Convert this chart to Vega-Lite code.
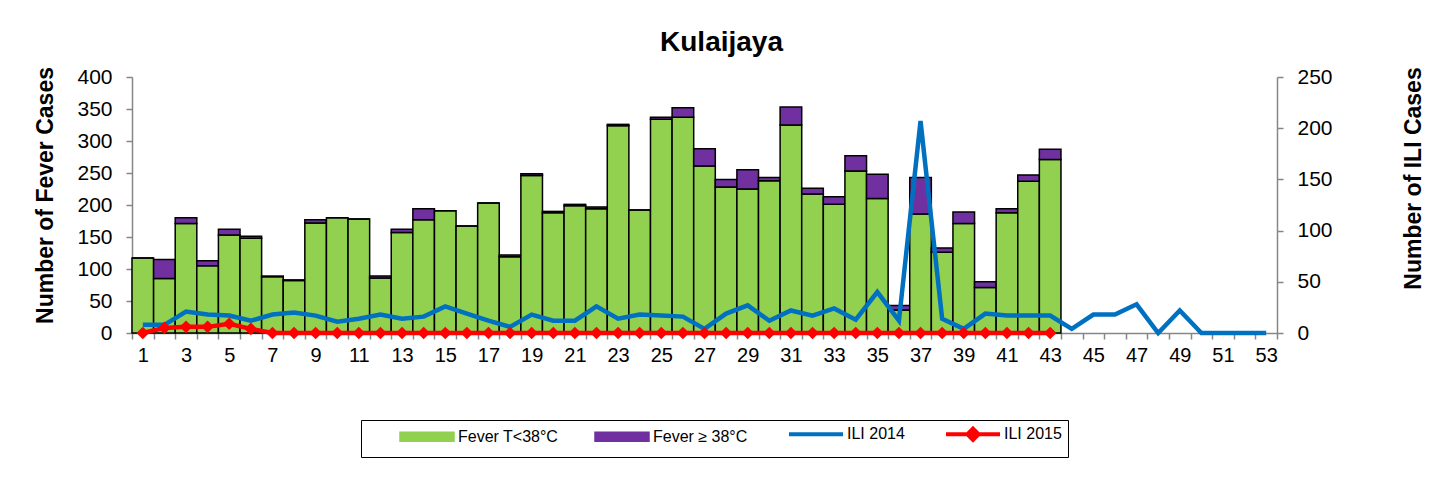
{
  "$schema": "https://vega.github.io/schema/vega-lite/v6.json",
  "width": 1145,
  "height": 256,
  "autosize": {"type": "none"},
  "padding": {"left": 132, "top": 77, "right": 171, "bottom": 160},
  "background": "white",
  "config": {
    "font": "Liberation Sans",
    "view": {"stroke": null},
    "axis": {"labelFont": "Liberation Sans", "titleFont": "Liberation Sans", "labelColor": "black", "titleColor": "black", "grid": false, "domainColor": "#868686", "tickColor": "#868686", "domainWidth": 1.5, "tickWidth": 1.5}
  },
  "title": {"text": "Kulaijaya", "fontSize": 28, "fontWeight": "bold", "font": "Liberation Sans", "color": "black", "anchor": "middle", "frame": "group", "dx": 17, "offset": 9},
  "datasets": {
    "bars": [
      {"week": 1, "series": "Fever T<38°C", "value": 117}, {"week": 1, "series": "Fever ≥ 38°C", "value": 0},
      {"week": 2, "series": "Fever T<38°C", "value": 85}, {"week": 2, "series": "Fever ≥ 38°C", "value": 30},
      {"week": 3, "series": "Fever T<38°C", "value": 171}, {"week": 3, "series": "Fever ≥ 38°C", "value": 9},
      {"week": 4, "series": "Fever T<38°C", "value": 105}, {"week": 4, "series": "Fever ≥ 38°C", "value": 8},
      {"week": 5, "series": "Fever T<38°C", "value": 153}, {"week": 5, "series": "Fever ≥ 38°C", "value": 9},
      {"week": 6, "series": "Fever T<38°C", "value": 148}, {"week": 6, "series": "Fever ≥ 38°C", "value": 3},
      {"week": 7, "series": "Fever T<38°C", "value": 88}, {"week": 7, "series": "Fever ≥ 38°C", "value": 1},
      {"week": 8, "series": "Fever T<38°C", "value": 82}, {"week": 8, "series": "Fever ≥ 38°C", "value": 1},
      {"week": 9, "series": "Fever T<38°C", "value": 172}, {"week": 9, "series": "Fever ≥ 38°C", "value": 5},
      {"week": 10, "series": "Fever T<38°C", "value": 180}, {"week": 10, "series": "Fever ≥ 38°C", "value": 0},
      {"week": 11, "series": "Fever T<38°C", "value": 178}, {"week": 11, "series": "Fever ≥ 38°C", "value": 0},
      {"week": 12, "series": "Fever T<38°C", "value": 86}, {"week": 12, "series": "Fever ≥ 38°C", "value": 3},
      {"week": 13, "series": "Fever T<38°C", "value": 157}, {"week": 13, "series": "Fever ≥ 38°C", "value": 5},
      {"week": 14, "series": "Fever T<38°C", "value": 177}, {"week": 14, "series": "Fever ≥ 38°C", "value": 17},
      {"week": 15, "series": "Fever T<38°C", "value": 191}, {"week": 15, "series": "Fever ≥ 38°C", "value": 0},
      {"week": 16, "series": "Fever T<38°C", "value": 167}, {"week": 16, "series": "Fever ≥ 38°C", "value": 0},
      {"week": 17, "series": "Fever T<38°C", "value": 203}, {"week": 17, "series": "Fever ≥ 38°C", "value": 0},
      {"week": 18, "series": "Fever T<38°C", "value": 119}, {"week": 18, "series": "Fever ≥ 38°C", "value": 3},
      {"week": 19, "series": "Fever T<38°C", "value": 246}, {"week": 19, "series": "Fever ≥ 38°C", "value": 3},
      {"week": 20, "series": "Fever T<38°C", "value": 188}, {"week": 20, "series": "Fever ≥ 38°C", "value": 2},
      {"week": 21, "series": "Fever T<38°C", "value": 199}, {"week": 21, "series": "Fever ≥ 38°C", "value": 2},
      {"week": 22, "series": "Fever T<38°C", "value": 194}, {"week": 22, "series": "Fever ≥ 38°C", "value": 3},
      {"week": 23, "series": "Fever T<38°C", "value": 324}, {"week": 23, "series": "Fever ≥ 38°C", "value": 2},
      {"week": 24, "series": "Fever T<38°C", "value": 192}, {"week": 24, "series": "Fever ≥ 38°C", "value": 0},
      {"week": 25, "series": "Fever T<38°C", "value": 334}, {"week": 25, "series": "Fever ≥ 38°C", "value": 3},
      {"week": 26, "series": "Fever T<38°C", "value": 337}, {"week": 26, "series": "Fever ≥ 38°C", "value": 15},
      {"week": 27, "series": "Fever T<38°C", "value": 261}, {"week": 27, "series": "Fever ≥ 38°C", "value": 27},
      {"week": 28, "series": "Fever T<38°C", "value": 228}, {"week": 28, "series": "Fever ≥ 38°C", "value": 12},
      {"week": 29, "series": "Fever T<38°C", "value": 225}, {"week": 29, "series": "Fever ≥ 38°C", "value": 30},
      {"week": 30, "series": "Fever T<38°C", "value": 238}, {"week": 30, "series": "Fever ≥ 38°C", "value": 5},
      {"week": 31, "series": "Fever T<38°C", "value": 325}, {"week": 31, "series": "Fever ≥ 38°C", "value": 28},
      {"week": 32, "series": "Fever T<38°C", "value": 217}, {"week": 32, "series": "Fever ≥ 38°C", "value": 9},
      {"week": 33, "series": "Fever T<38°C", "value": 201}, {"week": 33, "series": "Fever ≥ 38°C", "value": 12},
      {"week": 34, "series": "Fever T<38°C", "value": 253}, {"week": 34, "series": "Fever ≥ 38°C", "value": 24},
      {"week": 35, "series": "Fever T<38°C", "value": 210}, {"week": 35, "series": "Fever ≥ 38°C", "value": 38},
      {"week": 36, "series": "Fever T<38°C", "value": 36}, {"week": 36, "series": "Fever ≥ 38°C", "value": 7},
      {"week": 37, "series": "Fever T<38°C", "value": 186}, {"week": 37, "series": "Fever ≥ 38°C", "value": 57},
      {"week": 38, "series": "Fever T<38°C", "value": 126}, {"week": 38, "series": "Fever ≥ 38°C", "value": 7},
      {"week": 39, "series": "Fever T<38°C", "value": 171}, {"week": 39, "series": "Fever ≥ 38°C", "value": 18},
      {"week": 40, "series": "Fever T<38°C", "value": 71}, {"week": 40, "series": "Fever ≥ 38°C", "value": 9},
      {"week": 41, "series": "Fever T<38°C", "value": 188}, {"week": 41, "series": "Fever ≥ 38°C", "value": 6},
      {"week": 42, "series": "Fever T<38°C", "value": 237}, {"week": 42, "series": "Fever ≥ 38°C", "value": 10},
      {"week": 43, "series": "Fever T<38°C", "value": 271}, {"week": 43, "series": "Fever ≥ 38°C", "value": 16}
    ],
    "ili": [
      {"week": 1, "series": "ILI 2014", "value": 8}, {"week": 2, "series": "ILI 2014", "value": 8},
      {"week": 3, "series": "ILI 2014", "value": 21}, {"week": 4, "series": "ILI 2014", "value": 18},
      {"week": 5, "series": "ILI 2014", "value": 17}, {"week": 6, "series": "ILI 2014", "value": 12},
      {"week": 7, "series": "ILI 2014", "value": 18}, {"week": 8, "series": "ILI 2014", "value": 20},
      {"week": 9, "series": "ILI 2014", "value": 17}, {"week": 10, "series": "ILI 2014", "value": 11},
      {"week": 11, "series": "ILI 2014", "value": 14}, {"week": 12, "series": "ILI 2014", "value": 18},
      {"week": 13, "series": "ILI 2014", "value": 14}, {"week": 14, "series": "ILI 2014", "value": 16},
      {"week": 15, "series": "ILI 2014", "value": 26}, {"week": 16, "series": "ILI 2014", "value": 19},
      {"week": 17, "series": "ILI 2014", "value": 12}, {"week": 18, "series": "ILI 2014", "value": 6},
      {"week": 19, "series": "ILI 2014", "value": 18}, {"week": 20, "series": "ILI 2014", "value": 12},
      {"week": 21, "series": "ILI 2014", "value": 12}, {"week": 22, "series": "ILI 2014", "value": 26},
      {"week": 23, "series": "ILI 2014", "value": 14}, {"week": 24, "series": "ILI 2014", "value": 18},
      {"week": 25, "series": "ILI 2014", "value": 17}, {"week": 26, "series": "ILI 2014", "value": 16},
      {"week": 27, "series": "ILI 2014", "value": 4}, {"week": 28, "series": "ILI 2014", "value": 19},
      {"week": 29, "series": "ILI 2014", "value": 27}, {"week": 30, "series": "ILI 2014", "value": 12},
      {"week": 31, "series": "ILI 2014", "value": 22}, {"week": 32, "series": "ILI 2014", "value": 17},
      {"week": 33, "series": "ILI 2014", "value": 24}, {"week": 34, "series": "ILI 2014", "value": 13},
      {"week": 35, "series": "ILI 2014", "value": 40}, {"week": 36, "series": "ILI 2014", "value": 12},
      {"week": 37, "series": "ILI 2014", "value": 207}, {"week": 38, "series": "ILI 2014", "value": 14},
      {"week": 39, "series": "ILI 2014", "value": 4}, {"week": 40, "series": "ILI 2014", "value": 19},
      {"week": 41, "series": "ILI 2014", "value": 17}, {"week": 42, "series": "ILI 2014", "value": 17},
      {"week": 43, "series": "ILI 2014", "value": 17}, {"week": 44, "series": "ILI 2014", "value": 4},
      {"week": 45, "series": "ILI 2014", "value": 18}, {"week": 46, "series": "ILI 2014", "value": 18},
      {"week": 47, "series": "ILI 2014", "value": 28}, {"week": 48, "series": "ILI 2014", "value": 0},
      {"week": 49, "series": "ILI 2014", "value": 22}, {"week": 50, "series": "ILI 2014", "value": 0},
      {"week": 51, "series": "ILI 2014", "value": 0}, {"week": 52, "series": "ILI 2014", "value": 0},
      {"week": 53, "series": "ILI 2014", "value": 0},
      {"week": 1, "series": "ILI 2015", "value": 0}, {"week": 2, "series": "ILI 2015", "value": 5},
      {"week": 3, "series": "ILI 2015", "value": 6}, {"week": 4, "series": "ILI 2015", "value": 6},
      {"week": 5, "series": "ILI 2015", "value": 9}, {"week": 6, "series": "ILI 2015", "value": 4},
      {"week": 7, "series": "ILI 2015", "value": 0}, {"week": 8, "series": "ILI 2015", "value": 0},
      {"week": 9, "series": "ILI 2015", "value": 0}, {"week": 10, "series": "ILI 2015", "value": 0},
      {"week": 11, "series": "ILI 2015", "value": 0}, {"week": 12, "series": "ILI 2015", "value": 0},
      {"week": 13, "series": "ILI 2015", "value": 0}, {"week": 14, "series": "ILI 2015", "value": 0},
      {"week": 15, "series": "ILI 2015", "value": 0}, {"week": 16, "series": "ILI 2015", "value": 0},
      {"week": 17, "series": "ILI 2015", "value": 0}, {"week": 18, "series": "ILI 2015", "value": 0},
      {"week": 19, "series": "ILI 2015", "value": 0}, {"week": 20, "series": "ILI 2015", "value": 0},
      {"week": 21, "series": "ILI 2015", "value": 0}, {"week": 22, "series": "ILI 2015", "value": 0},
      {"week": 23, "series": "ILI 2015", "value": 0}, {"week": 24, "series": "ILI 2015", "value": 0},
      {"week": 25, "series": "ILI 2015", "value": 0}, {"week": 26, "series": "ILI 2015", "value": 0},
      {"week": 27, "series": "ILI 2015", "value": 0}, {"week": 28, "series": "ILI 2015", "value": 0},
      {"week": 29, "series": "ILI 2015", "value": 0}, {"week": 30, "series": "ILI 2015", "value": 0},
      {"week": 31, "series": "ILI 2015", "value": 0}, {"week": 32, "series": "ILI 2015", "value": 0},
      {"week": 33, "series": "ILI 2015", "value": 0}, {"week": 34, "series": "ILI 2015", "value": 0},
      {"week": 35, "series": "ILI 2015", "value": 0}, {"week": 36, "series": "ILI 2015", "value": 0},
      {"week": 37, "series": "ILI 2015", "value": 0}, {"week": 38, "series": "ILI 2015", "value": 0},
      {"week": 39, "series": "ILI 2015", "value": 0}, {"week": 40, "series": "ILI 2015", "value": 0},
      {"week": 41, "series": "ILI 2015", "value": 0}, {"week": 42, "series": "ILI 2015", "value": 0},
      {"week": 43, "series": "ILI 2015", "value": 0}
    ]
  },
  "encoding": {
    "x": {
      "field": "week",
      "type": "ordinal",
      "scale": {"domain": [1,2,3,4,5,6,7,8,9,10,11,12,13,14,15,16,17,18,19,20,21,22,23,24,25,26,27,28,29,30,31,32,33,34,35,36,37,38,39,40,41,42,43,44,45,46,47,48,49,50,51,52,53], "paddingInner": 0, "paddingOuter": 0},
      "axis": {"title": null, "labelAngle": 0, "labelFontSize": 20, "labelPadding": 6, "labelOverlap": false, "labelExpr": "datum.value % 2 == 1 ? datum.label : ''", "tickBand": "extent", "tickSize": 6}
    }
  },
  "layer": [
    {
      "data": {"name": "bars"},
      "mark": {"type": "bar", "stroke": "black", "strokeWidth": 1.5},
      "encoding": {
        "y": {"field": "value", "type": "quantitative", "stack": "zero", "scale": {"domain": [0, 400], "nice": false},
          "axis": {"title": "Number of Fever Cases", "titleFontSize": 23, "titleFontWeight": "bold", "titleAngle": 270, "titleBaseline": "middle", "titleAlign": "center", "titleX": -87, "titleY": 118, "values": [0,50,100,150,200,250,300,350,400], "labelFontSize": 21, "labelPadding": 14, "tickSize": 6}},
        "order": {"field": "series", "sort": "ascending"},
        "color": {"field": "series", "type": "nominal",
          "scale": {"domain": ["Fever T<38°C", "Fever ≥ 38°C", "ILI 2014", "ILI 2015"], "range": ["#92D050", "#7030A0", "#0070C0", "#FF0000"]},
          "legend": {
            "orient": "none", "legendX": 229, "legendY": 343, "direction": "horizontal",
            "title": " ", "titleOrient": "left", "titleFontSize": 16, "titlePadding": 32,
            "strokeColor": "black", "padding": 6, "fillColor": "white",
            "symbolSize": 196, "symbolOffset": 20, "labelOffset": 23, "columnPadding": 33, "symbolStrokeWidth": 1.5,
            "labelFontSize": 16, "labelFont": "Liberation Sans", "labelColor": "black",
            "encode": {"symbols": {"update": {
              "shape": {"signal": "datum.value == 'ILI 2014' ? 'M0,-1.2M0,1.2M-3.857,0H3.857' : datum.value == 'ILI 2015' ? 'M0,-1.2M0,1.2M-3.857,0H3.857M0,-0.8L0.8,0L0,0.8L-0.8,0Z' : 'M0,-1.2M0,1.2M-3.857,-0.643H3.857V0.643H-3.857Z'"},
              "fill": {"signal": "datum.value == 'Fever T<38°C' ? '#92D050' : datum.value == 'Fever ≥ 38°C' ? '#7030A0' : datum.value == 'ILI 2015' ? '#FF0000' : 'transparent'"},
              "stroke": {"signal": "datum.value == 'ILI 2014' ? '#0070C0' : datum.value == 'ILI 2015' ? '#FF0000' : 'black'"},
              "strokeWidth": {"signal": "datum.value == 'ILI 2014' || datum.value == 'ILI 2015' ? 4 : 1.5"},
              "opacity": {"value": 1}
            }}}
          }
        }
      }
    },
    {
      "data": {"name": "ili"},
      "encoding": {
        "y": {"field": "value", "type": "quantitative", "scale": {"domain": [0, 250], "nice": false},
          "axis": {"orient": "right", "title": "Number of ILI Cases", "titleFontSize": 23, "titleFontWeight": "bold", "titleAngle": 270, "titleBaseline": "middle", "titleAlign": "center", "titleX": 136, "titleY": 101, "values": [0,50,100,150,200,250], "labelFontSize": 21, "labelPadding": 14, "tickSize": 6}}
      },
      "layer": [
        {
          "mark": {"type": "line", "strokeWidth": 4.5},
          "encoding": {"color": {"field": "series", "type": "nominal",
            "legend": {
              "orient": "none", "legendX": 229, "legendY": 343, "direction": "horizontal",
              "title": " ", "titleOrient": "left", "titleFontSize": 16, "titlePadding": 32,
              "strokeColor": "black", "padding": 6, "fillColor": "white",
              "symbolSize": 196, "symbolOffset": 20, "labelOffset": 23, "columnPadding": 33, "symbolStrokeWidth": 1.5,
              "labelFontSize": 16, "labelFont": "Liberation Sans", "labelColor": "black",
              "encode": {"symbols": {"update": {
                "shape": {"signal": "datum.value == 'ILI 2014' ? 'M0,-1.2M0,1.2M-3.857,0H3.857' : datum.value == 'ILI 2015' ? 'M0,-1.2M0,1.2M-3.857,0H3.857M0,-0.8L0.8,0L0,0.8L-0.8,0Z' : 'M0,-1.2M0,1.2M-3.857,-0.643H3.857V0.643H-3.857Z'"},
                "fill": {"signal": "datum.value == 'Fever T<38°C' ? '#92D050' : datum.value == 'Fever ≥ 38°C' ? '#7030A0' : datum.value == 'ILI 2015' ? '#FF0000' : 'transparent'"},
                "stroke": {"signal": "datum.value == 'ILI 2014' ? '#0070C0' : datum.value == 'ILI 2015' ? '#FF0000' : 'black'"},
                "strokeWidth": {"signal": "datum.value == 'ILI 2014' || datum.value == 'ILI 2015' ? 4 : 1.5"},
                "opacity": {"value": 1}
              }}}
            }}}
        },
        {
          "transform": [{"filter": "datum.series == 'ILI 2015'"}],
          "mark": {"type": "point", "shape": "diamond", "filled": true, "size": 160, "opacity": 1, "color": "#FF0000"},
          "encoding": {}
        }
      ]
    }
  ],
  "resolve": {"scale": {"y": "independent"}}
}
